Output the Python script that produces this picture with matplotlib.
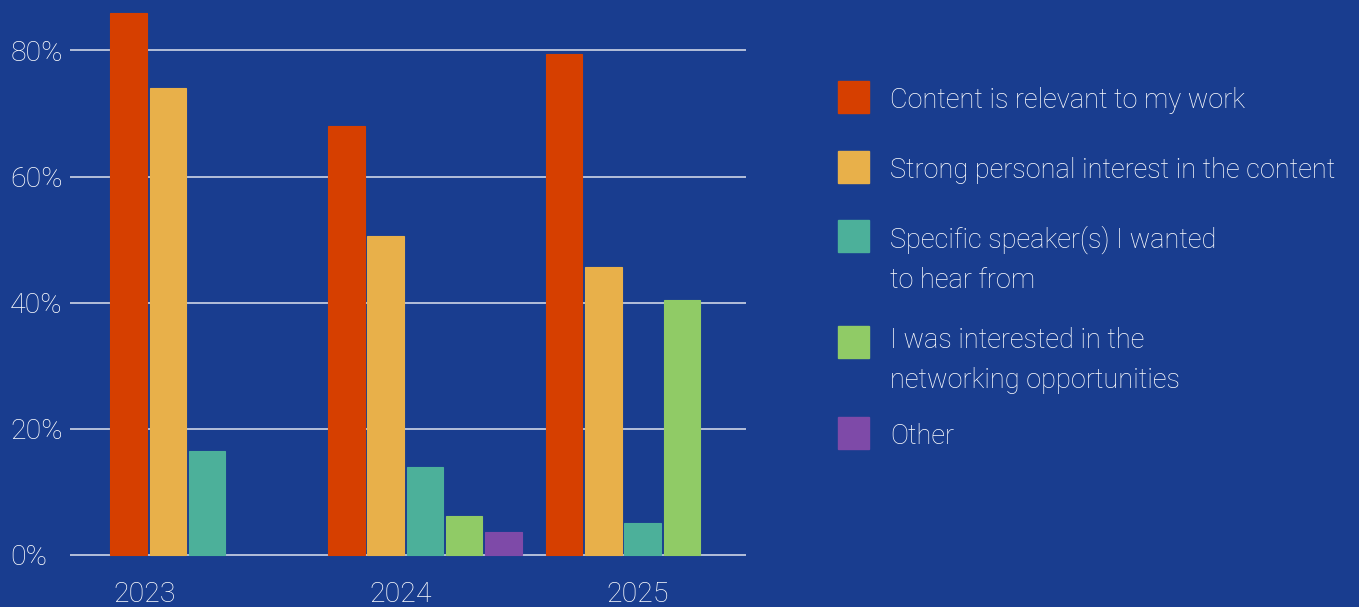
import matplotlib.pyplot as plt
from matplotlib.patches import Rectangle
import numpy as np

plt.rcParams['font.family'] = 'Roboto'
plt.rcParams['font.weight'] = 'light'

years = ['2023', '2024', '2025']
reasons = [
    'Content is relevant to my work',
    'Strong personal interest in the content',
    'Specific speaker(s) I wanted\nto hear from',
    'I was interested in the\nnetworking opportunities',
    'Other',
]
colors = ['#d63f00', '#e8b04a', '#4cb09a', '#90cb66', '#7e4aa8']

# share of respondents (%) per reason, one list per reason across years
relevant = [86, 68, 79.5]
interest = [74, 50.5, 45.6]
speakers = [16.5, 14, 5]
networking = [np.nan, 6.2, 40.4]
other = [np.nan, 3.6, np.nan]
values = [relevant, interest, speakers, networking, other]

bg = '#193d8f'
fig = plt.figure(figsize=(13.59, 6.07), dpi=100, facecolor=bg)
W, H = 1359, 607
ax = fig.add_axes([70 / W, (H - 560) / H, (746 - 70) / W, 560 / H])
ax.set_facecolor(bg)

group_step = 5.54
bar_w = 0.93
for j, (vals, c) in enumerate(zip(values, colors)):
    xs = np.arange(len(years)) * group_step + j
    ax.bar(xs, vals, width=bar_w, color=c, edgecolor=c, linewidth=0.8, zorder=3)

ax.set_xlim(-1.49, 15.71)
ax.set_ylim(-0.8, 88)

ax.set_yticks([0, 20, 40, 60, 80])
ax.set_yticklabels([f'{v}%' for v in [0, 20, 40, 60, 80]], color='white',
                   fontsize=20.5, ha='left')
ax.tick_params(axis='y', length=0, pad=43)
ax.grid(axis='y', color='#dde2ee', linewidth=1.1, zorder=1)

label_shift = [0.42, 1.37, 1.88]
ax.set_xticks(np.arange(len(years)) * group_step + np.array(label_shift))
ax.set_xticklabels(years, color='white', fontsize=20.5)
ax.tick_params(axis='x', length=0, pad=15)

for s in ax.spines.values():
    s.set_visible(False)

# legend drawn by hand so the swatch sits on the first line of wrapped labels
rows_y = [97, 167, 236, 342, 433]
text_base = [108, 178, 248, 348, 444]
line_gap = 40
for lab, c, yp, yb in zip(reasons, colors, rows_y, text_base):
    fig.patches.append(Rectangle((838 / W, 1 - (yp + 16) / H), 31 / W, 32 / H,
                                 transform=fig.transFigure, color=c))
    for k, line in enumerate(lab.split('\n')):
        fig.text(890 / W, 1 - (yb + k * line_gap) / H, line, color='white',
                 fontsize=19.5, va='baseline', ha='left')

fig.savefig('out.png', dpi=100, facecolor=bg)
